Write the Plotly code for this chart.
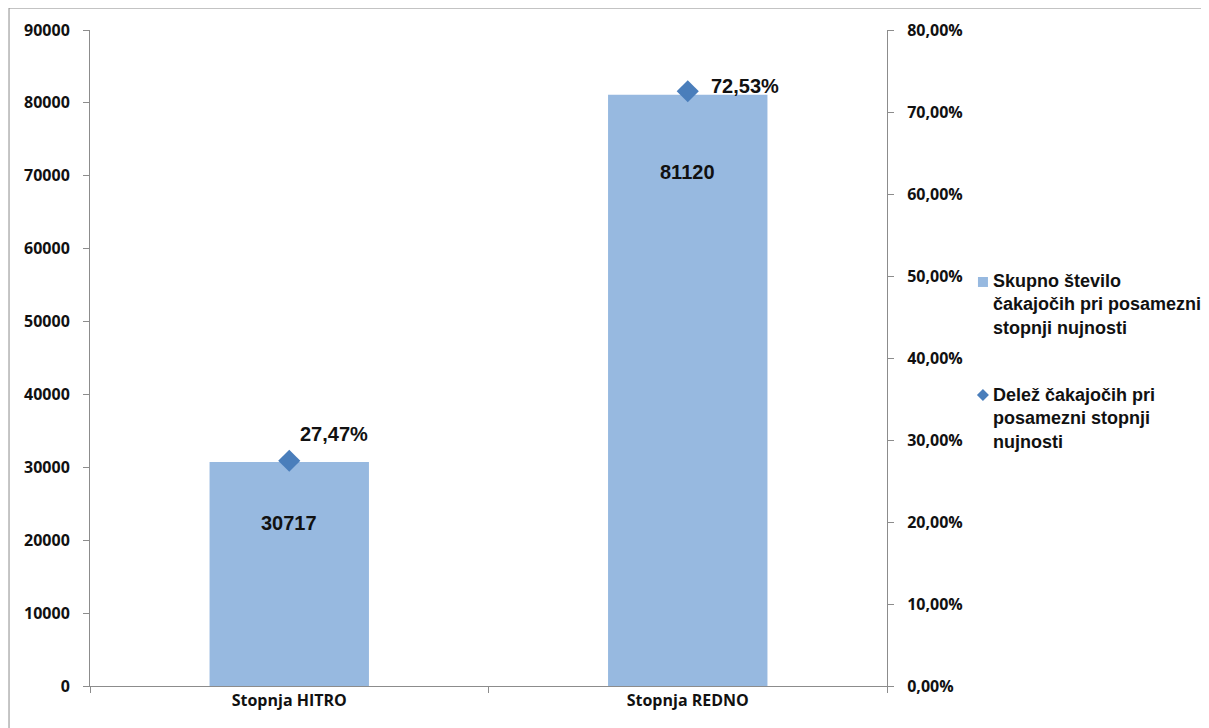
import plotly.graph_objects as go

# data
categories = ["Stopnja HITRO", "Stopnja REDNO"]
waiting_total = [30717, 81120]
waiting_share = [0.2747, 0.7253]
share_labels = ["27,47%", "72,53%"]

bar_name = "Skupno število<br>čakajočih pri posamezni<br>stopnji nujnosti"
share_name = "Delež čakajočih pri<br>posamezni stopnji<br>nujnosti"

bar_color = "#97B9E0"
share_color = "#4A7EBB"
tick_font = dict(family="Open Sans", size=16, color="#111111", weight="bold")
label_font = dict(family="Liberation Sans", size=20, color="#111111")
legend_font = dict(family="Liberation Sans", size=18, color="#111111")

fig = go.Figure()

fig.add_trace(go.Bar(
    x=categories, y=waiting_total, name=bar_name,
    marker=dict(color=bar_color, line=dict(width=0)),
    width=0.4, hoverinfo="y",
))

fig.add_trace(go.Scatter(
    x=categories, y=waiting_share, name=share_name, yaxis="y2",
    mode="markers",
    marker=dict(symbol="diamond", size=17, color=share_color),
))

# value labels inside the bars
for cat, val, dy in zip(categories, waiting_total, [-61, -77]):
    fig.add_annotation(x=cat, y=val, text="<b>%d</b>" % val, showarrow=False,
                       yshift=dy, font=label_font)

# share labels next to the diamonds
for cat, val, txt, dx, dy in zip(categories, waiting_share, share_labels,
                                 [45, 57], [27, 5]):
    fig.add_annotation(x=cat, y=val, yref="y2", text="<b>%s</b>" % txt,
                       showarrow=False, xshift=dx, yshift=dy, font=label_font)

# hand-made legend (the real one would push the plot area when it runs off the edge)
fig.add_annotation(xref="paper", yref="paper", x=1.131, y=0.5808,
                   xanchor="left", yanchor="middle", align="left",
                   text="<b>%s</b>" % bar_name, showarrow=False, font=legend_font)
fig.add_annotation(xref="paper", yref="paper", x=1.131, y=0.4085,
                   xanchor="left", yanchor="middle", align="left",
                   text="<b>%s</b>" % share_name, showarrow=False, font=legend_font)
fig.add_shape(type="rect", xref="paper", yref="paper",
              xsizemode="pixel", ysizemode="pixel",
              xanchor=1.1204, yanchor=0.6159, x0=-5, x1=5, y0=-5, y1=5,
              fillcolor=bar_color, line=dict(width=0))
fig.add_shape(type="path", xref="paper", yref="paper",
              xsizemode="pixel", ysizemode="pixel",
              xanchor=1.1204, yanchor=0.4436,
              path="M0,6 L6,0 L0,-6 L-6,0 Z",
              fillcolor=share_color, line=dict(width=0))

# outer chart frame
fig.add_shape(type="rect", xref="paper", yref="paper",
              x0=-0.1016, x1=1.5, y0=-0.3, y1=1.0335,
              line=dict(color="#8C8C8C", width=1))

# page body has an 8px margin, so the figure is shifted by that much
fig.update_layout(
    width=1201, height=720,
    margin=dict(l=82, r=322, t=22, b=42),
    paper_bgcolor="white", plot_bgcolor="white",
    separators=",.",
    showlegend=False,
    xaxis=dict(showline=True, linecolor="#8C8C8C", ticks="outside",
               tickson="boundaries", tickcolor="#8C8C8C", ticklen=6,
               tickfont=tick_font, showgrid=False),
    yaxis=dict(range=[0, 90000], dtick=10000, tickformat="d",
               showline=True, linecolor="#8C8C8C", ticks="outside",
               tickcolor="#8C8C8C", ticklen=6, ticklabelstandoff=10,
               tickfont=tick_font, showgrid=False, zeroline=False),
    yaxis2=dict(range=[0, 0.8], dtick=0.1, tickformat=".2%",
                overlaying="y", side="right",
                showline=True, linecolor="#8C8C8C", ticks="outside",
                tickcolor="#8C8C8C", ticklen=6, ticklabelstandoff=10,
                tickfont=tick_font, showgrid=False, zeroline=False),
)

fig.write_html("out.html")
